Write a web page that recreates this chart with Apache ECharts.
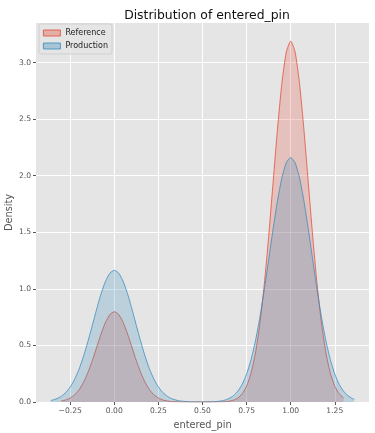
<!DOCTYPE html>
<html>
<head>
<meta charset="utf-8">
<script src="https://cdn.jsdelivr.net/npm/echarts@6/dist/echarts.min.js"></script>
<style>
html,body{margin:0;padding:0;background:#fff;}
#chart{width:375px;height:433px;}
</style>
</head>
<body>
<div id="chart"></div>
<script>
// Tick labels
const xTicks = [-0.25, 0.00, 0.25, 0.50, 0.75, 1.00, 1.25];
const yTicks = [0.0, 0.5, 1.0, 1.5, 2.0, 2.5, 3.0];

// Reference density (x positions and values)
const refX = [-0.3,-0.275,-0.25,-0.225,-0.2,-0.175,-0.15,-0.125,-0.1,-0.075,-0.05,-0.025,0,
  0.025,0.05,0.075,0.1,0.125,0.15,0.175,0.2,0.225,0.25,0.275,0.3,0.325,0.35,0.375,0.4,
  0.425,0.45,0.475,0.5,0.525,0.55,0.575,0.6,0.625,0.65,0.675,0.7,0.725,0.75,0.775,0.8,
  0.825,0.85,0.875,0.9,0.925,0.95,0.975,1.0,1.025,1.05,1.075,1.1,1.125,1.15,1.175,1.2,
  1.225,1.25,1.275,1.3];
const refY = [0.009,0.018,0.035,0.063,0.108,0.173,0.259,0.365,0.484,0.602,0.704,0.773,0.798,
  0.773,0.704,0.602,0.484,0.365,0.259,0.173,0.108,0.063,0.035,0.018,0.009,0.004,0.002,0.001,0,
  0,0,0,0,0,0,0,0.001,0.003,0.007,0.016,0.035,0.073,0.140,0.254,0.432,
  0.690,1.036,1.461,1.936,2.409,2.817,3.093,3.19,3.093,2.817,2.409,1.936,1.461,1.036,0.690,0.432,
  0.254,0.140,0.073,0.035];

// Production density
const prodX = [-0.36,-0.35,-0.325,-0.3,-0.275,-0.25,-0.225,-0.2,-0.175,-0.15,-0.125,-0.1,-0.075,-0.05,-0.025,0,
  0.025,0.05,0.075,0.1,0.125,0.15,0.175,0.2,0.225,0.25,0.275,0.3,0.325,0.35,0.375,0.4,
  0.425,0.45,0.475,0.5,0.525,0.55,0.575,0.6,0.625,0.65,0.675,0.7,0.725,0.75,0.775,0.8,
  0.825,0.85,0.875,0.9,0.925,0.95,0.975,1.0,1.025,1.05,1.075,1.1,1.125,1.15,1.175,1.2,
  1.225,1.25,1.275,1.3,1.325,1.35,1.36];
const prodY = [0.013,0.017,0.030,0.051,0.084,0.133,0.201,0.290,0.402,0.533,0.676,0.822,0.957,1.067,1.139,1.164,
  1.139,1.067,0.957,0.822,0.676,0.533,0.402,0.290,0.201,0.133,0.084,0.051,0.030,0.017,0.009,0.005,
  0.002,0.001,0.001,0.001,0.001,0.002,0.004,0.008,0.016,0.031,0.055,0.095,0.156,0.247,0.373,0.539,
  0.746,0.989,1.256,1.527,1.778,1.981,2.115,2.161,2.115,1.981,1.778,1.527,1.256,0.989,0.746,0.539,
  0.373,0.247,0.156,0.095,0.055,0.031,0.024];

const seriesNames = ['Reference', 'Production'];

const zip = (xs, ys) => xs.map((x, i) => [x, ys[i]]);
const FONT = 'DejaVu Sans';

const chart = echarts.init(document.getElementById('chart'), null, {renderer: 'canvas'});
chart.setOption({
  animation: false,
  backgroundColor: '#ffffff',
  title: {
    text: 'Distribution of entered_pin',
    left: 202, top: 5, textAlign: 'center',
    textStyle: {fontFamily: FONT, fontSize: 12.4, fontWeight: 'normal', color: '#111'}
  },
  legend: {
    orient: 'vertical',
    left: 39, top: 24,
    padding: [5, 4, 4, 4],
    itemWidth: 17, itemHeight: 6, itemGap: 5,
    icon: 'rect',
    backgroundColor: 'rgba(229,229,229,0.8)',
    borderColor: 'rgba(204,204,204,0.8)',
    borderWidth: 1, borderRadius: 2,
    textStyle: {fontFamily: FONT, fontSize: 8, color: '#222', padding: [0, 0, 0, 0]},
    data: [
      {name: seriesNames[0], itemStyle: {color: 'rgba(226,74,51,0.35)', borderColor: '#E24A33', borderWidth: 0.8}},
      {name: seriesNames[1], itemStyle: {color: 'rgba(52,138,189,0.35)', borderColor: '#348ABD', borderWidth: 0.8}}
    ]
  },
  grid: {
    left: 36, right: 6, top: 23, bottom: 31,
    containLabel: false, outerBoundsMode: 'none',
    show: true, backgroundColor: '#E5E5E5', borderWidth: 0
  },
  xAxis: {
    type: 'value', min: -0.444, max: 1.444,
    name: 'entered_pin', nameLocation: 'middle', nameGap: 18, nameMoveOverlap: false,
    nameTextStyle: {fontFamily: FONT, fontSize: 9.8, color: '#555'},
    axisLine: {show: false, onZero: false},
    axisTick: {show: true, length: 3, lineStyle: {color: '#555'}, customValues: xTicks},
    axisLabel: {
      customValues: xTicks, margin: 5,
      fontFamily: FONT, fontSize: 7.6, color: '#555',
      formatter: v => (v < 0 ? '\u2212' : '') + Math.abs(v).toFixed(2)
    },
    splitLine: {show: true, lineStyle: {color: '#ffffff', width: 1}}
  },
  yAxis: {
    type: 'value', min: 0, max: 3.35,
    name: 'Density', nameLocation: 'middle', nameGap: 22, nameMoveOverlap: false,
    nameTextStyle: {fontFamily: FONT, fontSize: 9.8, color: '#555'},
    axisLine: {show: false, onZero: false},
    axisTick: {show: true, length: 3, lineStyle: {color: '#555'}, customValues: yTicks},
    axisLabel: {
      customValues: yTicks, margin: 5,
      fontFamily: FONT, fontSize: 7.6, color: '#555',
      formatter: v => v.toFixed(1)
    },
    splitLine: {show: true, lineStyle: {color: '#ffffff', width: 1}}
  },
  series: [
    {
      name: seriesNames[0], type: 'line', data: zip(refX, refY),
      showSymbol: false, smooth: 0.2, color: '#E24A33',
      lineStyle: {color: '#E24A33', width: 1, opacity: 0.75},
      areaStyle: {color: 'rgba(226,74,51,0.33)', origin: 'start'},
      z: 2
    },
    {
      name: seriesNames[1], type: 'line', data: zip(prodX, prodY),
      showSymbol: false, smooth: 0.2, color: '#348ABD',
      lineStyle: {color: '#348ABD', width: 1, opacity: 0.75},
      areaStyle: {color: 'rgba(52,138,189,0.33)', origin: 'start'},
      z: 3
    }
  ]
});
</script>
</body>
</html>
